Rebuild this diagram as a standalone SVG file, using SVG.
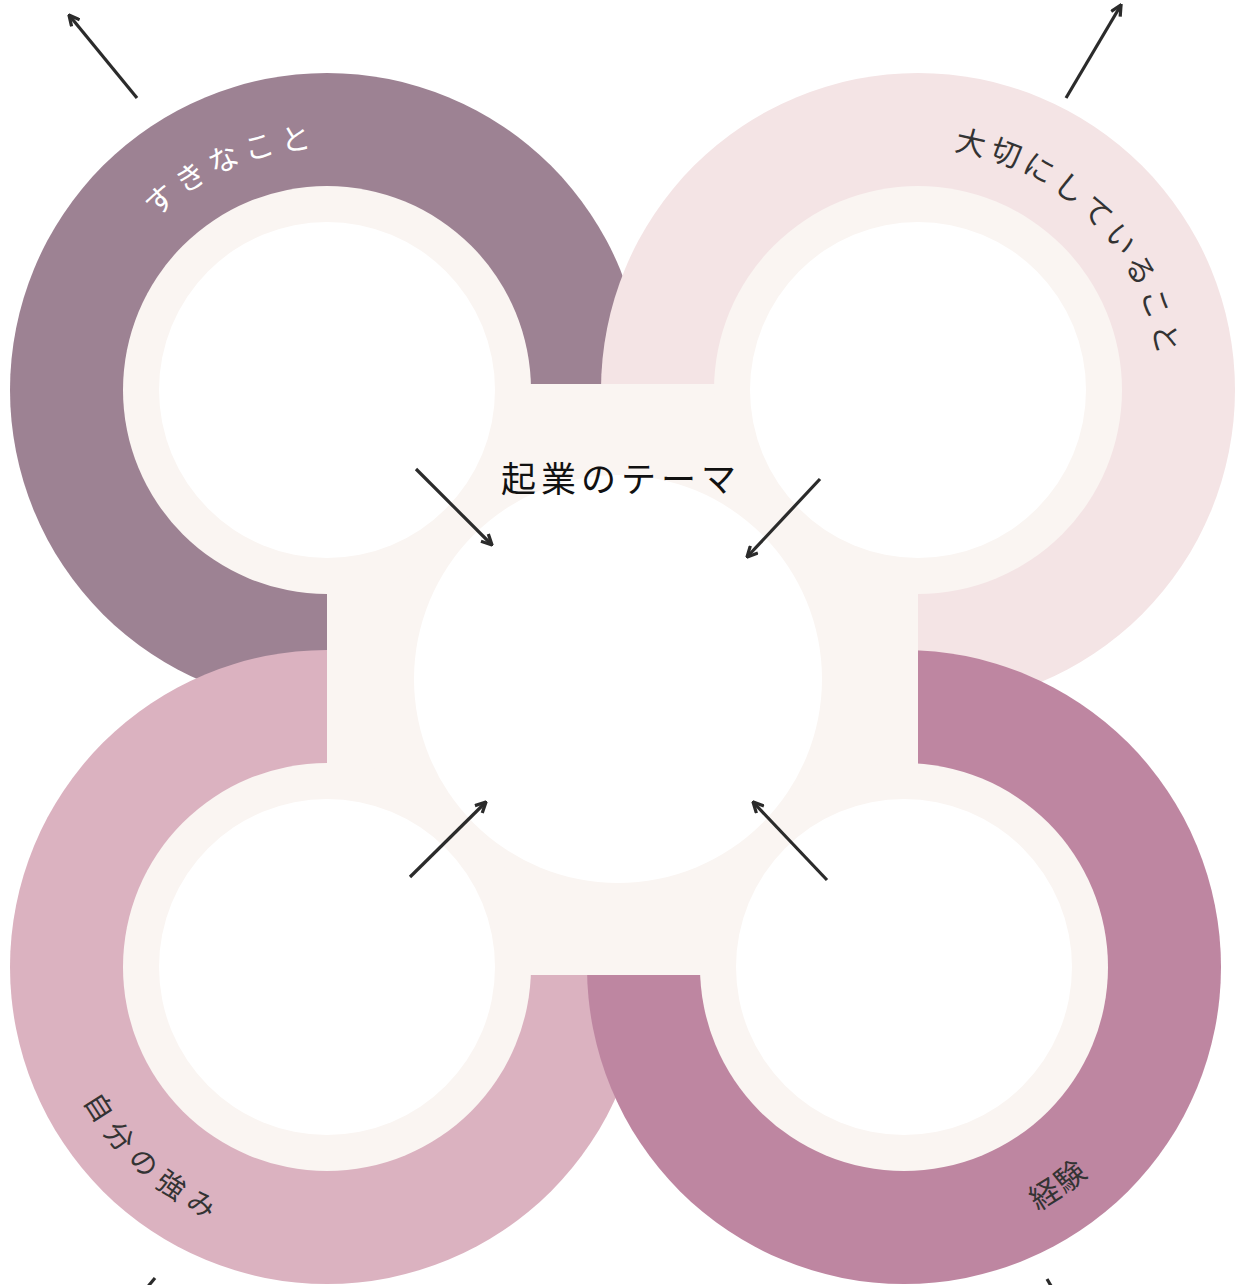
<svg xmlns="http://www.w3.org/2000/svg" width="1240" height="1285" viewBox="0 0 1240 1285">
  <style>
    .cream { fill: #faf5f2; }
    .white { fill: #ffffff; }
    .lbl { font-family: "Noto Sans CJK JP", "Noto Sans", sans-serif; font-size: 30px; }
    .dark { fill: #333333; }
    .arrow { stroke: #2b2b2b; stroke-width: 3.2; fill: none; marker-end: url(#ah); }
  </style>
  <defs>
    <marker id="ah" viewBox="0 0 10 10" refX="9" refY="5" markerWidth="13" markerHeight="13" markerUnits="userSpaceOnUse" orient="auto">
      <path d="M1,1 L9,5 L1,9" fill="none" stroke="#2b2b2b" stroke-width="2.5"/>
    </marker>
    <path id="arcTop" d="M -171.1,-171.1 A 242 242 0 0 1 171.1,-171.1"/>
    <path id="arcBot" d="M -196.6,196.6 A 278 278 0 0 0 196.6,196.6"/>
  </defs>

  <rect width="1240" height="1285" fill="#ffffff"/>

  <g id="rings">
    <circle cx="327" cy="390" r="317" fill="#9d8293"/>
    <circle cx="918" cy="390" r="317" fill="#f4e4e5"/>
    <circle cx="327" cy="967" r="317" fill="#dbb2c0"/>
    <circle cx="904" cy="967" r="317" fill="#be86a1"/>
  </g>

  <g id="hub">
    <rect class="cream" x="327" y="384" width="591" height="591"/>
  </g>

  <g id="node-suki">
    <circle class="cream" cx="327" cy="390" r="204"/>
    <circle class="white" cx="327" cy="390" r="168"/>
    <g transform="translate(327,390) rotate(-23.5)">
      <text class="lbl" fill="#ffffff" letter-spacing="6" text-anchor="middle"><textPath href="#arcTop" startOffset="50%">すきなこと</textPath></text>
    </g>
  </g>

  <g id="node-taisetsu">
    <circle class="cream" cx="918" cy="390" r="204"/>
    <circle class="white" cx="918" cy="390" r="168"/>
    <g transform="translate(918,390) rotate(45.7)">
      <text class="lbl dark" letter-spacing="5" text-anchor="middle"><textPath href="#arcTop" startOffset="50%">大切にしていること</textPath></text>
    </g>
  </g>

  <g id="node-tsuyomi">
    <circle class="cream" cx="327" cy="967" r="204"/>
    <circle class="white" cx="327" cy="967" r="168"/>
    <g transform="translate(327,967) rotate(42.2)">
      <text class="lbl dark" style="font-size:28px" letter-spacing="9" text-anchor="middle"><textPath href="#arcBot" startOffset="50%">自分の強み</textPath></text>
    </g>
  </g>

  <g id="node-keiken">
    <circle class="cream" cx="904" cy="967" r="204"/>
    <circle class="white" cx="904" cy="967" r="168"/>
    <g transform="translate(904,967) rotate(-35.3)">
      <text class="lbl dark" letter-spacing="2" text-anchor="middle"><textPath href="#arcBot" startOffset="50%">経験</textPath></text>
    </g>
  </g>

  <g id="node-theme">
    <circle class="white" cx="618" cy="679" r="204"/>
    <text x="501" y="492" font-family="Noto Sans CJK JP, Noto Sans, sans-serif" font-size="35" letter-spacing="5" fill="#111111">起業のテーマ</text>
  </g>

  <g id="connectors">
    <line class="arrow" x1="137" y1="98" x2="69" y2="15"/>
    <line class="arrow" x1="1066" y1="98" x2="1121" y2="5"/>
    <line class="arrow" x1="155" y1="1278" x2="86" y2="1361"/>
    <line class="arrow" x1="1047" y1="1279" x2="1102" y2="1373"/>
    <line class="arrow" x1="416" y1="469" x2="492" y2="545"/>
    <line class="arrow" x1="820" y1="479" x2="747" y2="557"/>
    <line class="arrow" x1="410" y1="877" x2="486" y2="802"/>
    <line class="arrow" x1="827" y1="880" x2="753" y2="802"/>
  </g>
</svg>
